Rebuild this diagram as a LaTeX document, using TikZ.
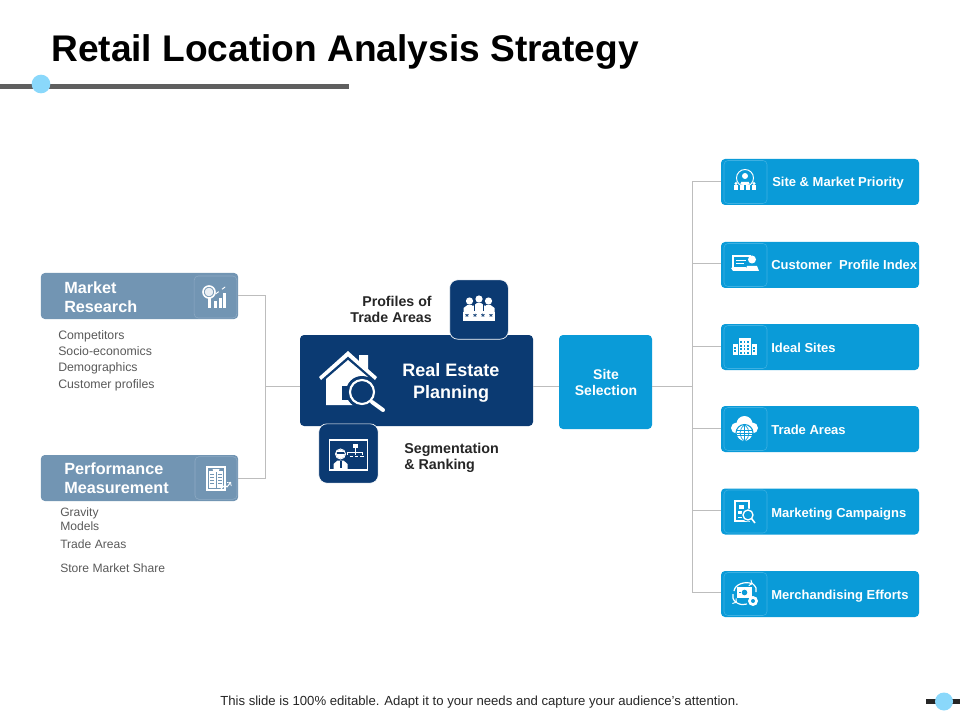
\documentclass[tikz,border=0pt]{standalone}
\usepackage{fontspec}
\setmainfont{Liberation Sans}
\usetikzlibrary{calc}
\definecolor{navy}{HTML}{0B3A72}
\definecolor{sky}{HTML}{0A9BD8}
\definecolor{slate}{HTML}{7295B3}
\definecolor{bartone}{HTML}{5F5F5F}
\definecolor{dotblue}{HTML}{8AD8FB}
\definecolor{linetone}{HTML}{BDBDBD}
\definecolor{smalltext}{HTML}{595959}
\definecolor{darktext}{HTML}{262626}
\definecolor{insky}{HTML}{3DB0E2}
\definecolor{inslate}{HTML}{8FABC4}
\newcommand{\fpx}[2]{\fontsize{\dimexpr #1pt*3/4\relax}{\dimexpr #2pt*3/4\relax}\selectfont}
\tikzset{
  boxb/.style={rounded corners=3pt,inner sep=0pt,draw=none},
  iconbox/.style={rounded corners=3pt,inner sep=0pt,fill=none,line width=.4pt},
  conn/.style={draw=linetone,line width=.6pt},
  rlabel/.style={anchor=base west,text=white,inner sep=0pt,font=\fpx{13}{16}\bfseries},
  llist/.style={anchor=base west,text=smalltext,inner sep=0pt,align=left},
  wo/.style={draw=white,fill=none,line width=.7pt},
}
\begin{document}
\begin{tikzpicture}[x=0.75pt,y=-0.75pt]
\useasboundingbox (0,0) rectangle (960,720);
% title and bars
\node[anchor=base west,inner sep=0pt,text=black,font=\fpx{37.1}{40}\bfseries] (title) at (51,62) {Retail Location Analysis Strategy};
\coordinate (barl) at (0,86.5); \coordinate (barr) at (349,86.5);
\draw[bartone,line width=3.6pt] (barl) -- (barr);
\node[circle,fill=dotblue,minimum size=14pt,inner sep=0pt] (dot1) at (41,84) {};
\coordinate (sl) at (926,701.5); \coordinate (sr) at (960,701.5);
\draw[darktext,line width=3.6pt] (sl) -- (sr);
\node[circle,fill=dotblue,minimum size=13.5pt,inner sep=0pt] (dot2) at (944,701.5) {};
\node[anchor=base west,inner sep=0pt,text=darktext,font=\fpx{13.15}{14}] (foot) at (220,705) {This slide is 100\% editable. Adapt it to your needs and capture your audience's attention.};
% junction coordinates
\coordinate (jl1) at (265,295); \coordinate (jl2) at (265,478); \coordinate (jlm) at (265,386);
\coordinate (jr) at (692,386);
\coordinate (t1) at (692,181.5); \coordinate (t2) at (692,263.5); \coordinate (t3) at (692,346.5);
\coordinate (t4) at (692,428); \coordinate (t5) at (692,510); \coordinate (t6) at (692,592);
% boxes
\node[boxb,fill=slate,minimum width=148pt,minimum height=34.5pt] (mr) at (139.5,296) {};
\node[boxb,fill=slate,minimum width=148pt,minimum height=34.5pt] (pm) at (139.5,478) {};
\node[boxb,fill=navy,minimum width=174.75pt,minimum height=68.25pt] (re) at (416.5,380.5) {};
\node[boxb,fill=sky,minimum width=69.75pt,minimum height=70.5pt] (site) at (605.5,382) {};
\foreach \n/\yy in {b1/182,b2/265,b3/347,b4/429,b5/511.5,b6/594}{
  \node[boxb,fill=sky,minimum width=148.5pt,minimum height=34.5pt] (\n) at (820,\yy) {};
  \node[iconbox,draw=insky,minimum width=32.25pt,minimum height=32.25pt] (\n i) at (745.5,\yy) {};
}
\node[iconbox,draw=inslate,minimum width=32pt,minimum height=31.5pt] (mri) at (215.5,297) {};
\node[iconbox,draw=inslate,minimum width=31.5pt,minimum height=32pt] (pmi) at (216,478) {};
\node[draw=white,line width=.5pt,fill=navy,rounded corners=6pt,minimum width=44pt,minimum height=44.5pt,inner sep=0pt] (top) at (479,309.5) {};
\node[draw=white,line width=.5pt,fill=navy,rounded corners=6pt,minimum width=44.5pt,minimum height=44.5pt,inner sep=0pt] (bot) at (348.5,453.5) {};
% connectors
\draw[conn] (jl1 -| mr.east) -- (jl1) -- (jl2) -- (jl2 -| pm.east);
\draw[conn] (jlm) -- (jlm -| re.west);
\draw[conn] (jr -| re.east) -- (jr -| site.west);
\draw[conn] (jr -| site.east) -- (jr);
\draw[conn] (t1) -- (t6);
\foreach \n/\c in {b1/t1,b2/t2,b3/t3,b4/t4,b5/t5,b6/t6}{ \draw[conn] (\c) -- (\c -| \n.west); }
% labels
\node[anchor=base west,inner sep=0pt,align=left,text=white,font=\fpx{16.2}{19}\bfseries] (mrt) at (64,312) {Market\\Research};
\node[anchor=base west,inner sep=0pt,align=left,text=white,font=\fpx{16.2}{19}\bfseries] (pmt) at (64,493) {Performance\\Measurement};
\node[llist,font=\fpx{12.3}{16.3}] (mrl) at (58,388) {Competitors\\Socio-economics\\Demographics\\Customer profiles};
\node[llist,font=\fpx{12.1}{14}] (g1) at (60,530) {Gravity\\Models};
\node[llist,font=\fpx{12.1}{14}] (g2) at (60,548) {Trade Areas};
\node[llist,font=\fpx{12.1}{14}] (g3) at (60,572) {Store Market Share};
\node[anchor=base,inner sep=0pt,align=center,text=white,font=\fpx{18}{21.5}\bfseries] (ret) at (451,398) {Real Estate\\Planning};
\node[anchor=base,inner sep=0pt,align=center,text=white,font=\fpx{14}{16}\bfseries] (sitet) at (606,395) {Site\\Selection};
\node[anchor=base east,inner sep=0pt,align=right,text=darktext,font=\fpx{14.2}{16}\bfseries] (pta) at (432,322) {Profiles of\\Trade Areas};
\node[anchor=base west,inner sep=0pt,align=left,text=darktext,font=\fpx{14.3}{16}\bfseries] (seg) at (404,469) {Segmentation\\\& Ranking};
\node[rlabel] (l1) at (772,187) {Site \& Market Priority};
\node[rlabel] (l2) at (771,270) {Customer\ \ Profile Index};
\node[rlabel] (l3) at (771,352) {Ideal Sites};
\node[rlabel] (l4) at (771,434) {Trade Areas};
\node[rlabel] (l5) at (771,517) {Marketing Campaigns};
\node[rlabel] (l6) at (771,599) {Merchandising Efforts};
% ----- icons -----
% house
\fill[white] (319,377) -- (348,351) -- (359,361) -- (359,355) -- (368,355) -- (368,369) -- (377,377) -- (375,380) -- (348,356.5) -- (321,380) -- cycle;
\fill[white] (326,379) -- (348,360) -- (368,377) -- (368,405) -- (326,405) -- cycle;
\fill[navy] (342,386) rectangle (352,400);
\fill[navy] (362,392) circle (16);
\draw[white,line width=1.6pt] (362,392) circle (12);
\draw[white,line width=3pt,line cap=round] (372,402) -- (383,410);
% top icon
\begin{scope}[shift={(479,310)}]
 \fill[white] (-16,2) rectangle (16,11);
 \foreach \s in {-12,-4,4,12}{\node[text=navy,inner sep=0pt,font=\fpx{10}{10}\bfseries] at (\s,7.5) {*};}
 \foreach \cx/\cy in {-9.5/-9,9.5/-9,0/-11}{
   \fill[white] (\cx,\cy) circle (3.6);
   \fill[white] (\cx-6,\cy+13) -- (\cx-6,\cy+7) -- (\cx-2,\cy+4) -- (\cx+2,\cy+4) -- (\cx+6,\cy+7) -- (\cx+6,\cy+13) -- cycle;
 }
 \draw[navy,line width=.8pt] (-4.5,-6) -- (-4.5,1) (4.5,-6) -- (4.5,1);
\end{scope}
% bottom icon
\begin{scope}[shift={(348.5,455)}]
 \draw[white,line width=1.1pt] (-19,-15) rectangle (19,15);
 \fill[white] (-8,-1) circle (4.5);
 \fill[navy] (-12,-1) rectangle (-4,-3);
 \draw[white,line width=.7pt] (-8,-1) circle (5);
 \fill[white] (-15,14) -- (-15,9) -- (-11,5.5) -- (-5,5.5) -- (-1,9) -- (-1,14) -- cycle;
 \fill[navy] (-9,6) rectangle (-7,13);
 \fill[white] (4,-11) rectangle (9,-7);
 \draw[white,line width=.7pt] (6.5,-7) -- (6.5,-3) (-1,-3) -- (14,-3) (-1,-3) -- (-1,0) (6.5,-3) -- (6.5,0) (14,-3) -- (14,0);
 \draw[white,line width=1.2pt,dash pattern=on 2.5pt off 1.5pt] (1,1.5) -- (16,1.5);
\end{scope}
% market research
\begin{scope}[shift={(215.5,297)}]
 \draw[white,line width=1.2pt] (-6.5,-5) circle (6);
 \fill[white!85!slate] (-6.5,-5) circle (4.3);
 \fill[white] (-8,1) rectangle (-5,11);
 \fill[white] (-1.5,4) rectangle (1.5,11);
 \fill[white] (3,1) rectangle (6,11);
 \fill[white] (7.5,-4) rectangle (10.5,11);
 \draw[white,line width=.7pt,dashed] (0,-3) -- (11,-11);
\end{scope}
% performance
\begin{scope}[shift={(216,478)}]
 \draw[white,line width=1pt] (-9,-11) rectangle (9,12);
 \fill[white] (-3.5,-9) arc (180:0:3.5) -- cycle;
 \fill[white] (-7,-7) rectangle (7,10);
 \fill[slate] (-.5,-6) rectangle (.5,10);
 \foreach \q in {-4,-1,2,5}{\draw[slate,line width=.7pt] (-6,\q) -- (-2,\q) (2,\q) -- (6,\q);}
 \draw[white,line width=.7pt,->] (4,12) -- (9,7) -- (11,9) -- (15,4);
\end{scope}
% b1
\begin{scope}[shift={(745,181)}]
 \draw[wo] (0,-3) circle (8.5);
 \fill[white] (0,-5) circle (3);
 \fill[white] (-4,1) arc (180:0:4 and 3.5) -- cycle;
 \foreach \s in {-9,-3,3,9}{ \fill[white] (\s,2.5) circle (1.6); \fill[white] (\s-2.2,4.5) rectangle (\s+2.2,9.5); }
 \fill[sky] (-1,4) rectangle (1,10);
\end{scope}
% b2
\begin{scope}[shift={(745,263)}]
 \draw[white,line width=1.2pt] (-12,-7) rectangle (5,5);
 \fill[white] (-14,5) -- (6,5) -- (4,8) -- (-12,8) -- cycle;
 \fill[white] (-9,-3) rectangle (2,-1.5); \fill[white] (-9,0) rectangle (-1,1.5);
 \fill[sky] (1,-4) rectangle (14,9);
 \fill[white] (7,-3.5) circle (4);
 \fill[white] (0,8) -- (2,3) -- (12,3) -- (14,8) -- cycle;
\end{scope}
% b3
\begin{scope}[shift={(744.5,347)}]
 \fill[white] (-6,-9) rectangle (6,8);
 \fill[white] (-12,-3) rectangle (-7,8);
 \fill[white] (7,-3) rectangle (12,8);
 \foreach \a in {-3.5,0,3.5}{\foreach \c in {-6,-2.5,1,4.5}{\fill[sky] (\a-.9,\c) rectangle (\a+.9,\c+2);}}
 \foreach \a in {-9.5,9.5}{\foreach \c in {-.5,3}{\fill[sky] (\a-1,\c) rectangle (\a+1,\c+2);}}
\end{scope}
% b4
\begin{scope}[shift={(744.5,429)}]
 \fill[white] (0,-5) circle (8);
 \fill[white] (-8,-1) circle (5.5);
 \fill[white] (8,-1) circle (5.5);
 \fill[white] (-8,-3) rectangle (8,4.5);
 \fill[white,draw=sky,line width=.8pt] (0,4) circle (8.5);
 \draw[sky,line width=.5pt] (-8,1.5) -- (8,1.5) (-8,4) -- (8,4) (-8,6.5) -- (8,6.5);
 \draw[sky,line width=.5pt] (0,-4) -- (0,12) (0,-4) .. controls (-6,0) and (-6,8) .. (0,12) (0,-4) .. controls (6,0) and (6,8) .. (0,12);
\end{scope}
% b5
\begin{scope}[shift={(745,512)}]
 \draw[wo,line width=1pt] (-10,-11) rectangle (4,9);
 \fill[white] (-6,-7) rectangle (-1,-3);
 \fill[white] (-7,-1) rectangle (-3,2);
 \draw[white,line width=.7pt,dashed] (-7,5) -- (-2,5);
 \fill[sky] (3,3) circle (6.5);
 \draw[white,line width=1pt] (3,3) circle (5);
 \draw[white,line width=1.2pt] (6.5,6.5) -- (10,11);
\end{scope}
% b6
\begin{scope}[shift={(745,594)}]
 \fill[white] (-8,-7) rectangle (7,4);
 \fill[sky] (-.5,-1.5) circle (2.8);
 \fill[sky] (-6,-2.2) rectangle (-4.5,-.8);
 \draw[white,line width=.9pt,->] (-11,-3) .. controls (-10,-10) and (0,-13) .. (8,-10);
 \draw[white,line width=.9pt] (8,-10) .. controls (11,-7) and (12,-5) .. (11,-2);
 \draw[white,line width=.9pt,<-] (-8,9) .. controls (-12,6) and (-13,3) .. (-12,0);
 \draw[white,line width=.9pt] (-8,9) .. controls (-4,11) and (-1,11) .. (2,10);
 \fill[white] (8,7) circle (5);
 \fill[sky] (8,7) circle (2);
\end{scope}
\end{tikzpicture}
\end{document}
